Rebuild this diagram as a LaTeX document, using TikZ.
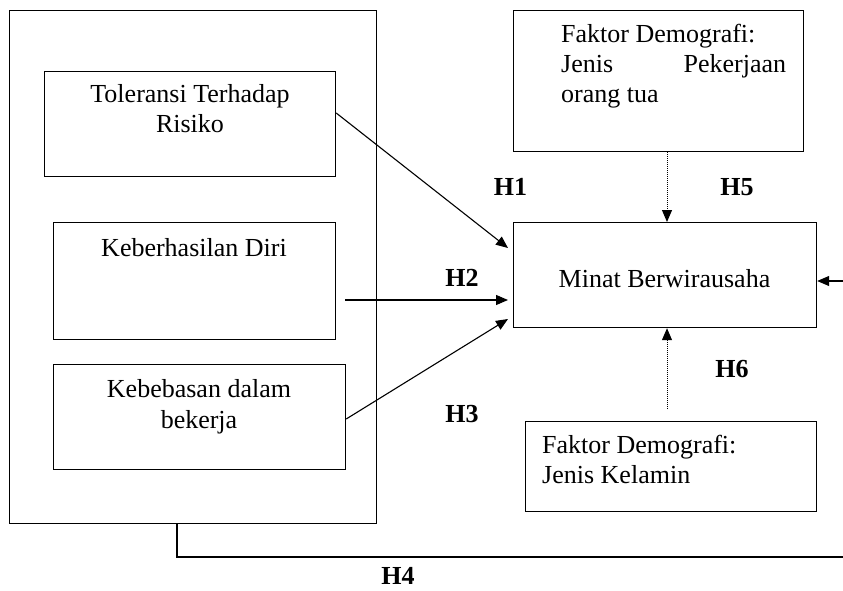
\documentclass[tikz,border=0pt]{standalone}
\usepackage{fontspec}
\setmainfont{Liberation Serif}
\usetikzlibrary{arrows.meta,calc}
\begin{document}
\begin{tikzpicture}[x=1pt,y=-1pt,
  box/.style={draw,line width=1.2pt,rectangle,anchor=north west,inner sep=0pt},
  txt/.style={font=\fontsize{26}{31}\selectfont,inner sep=0pt,anchor=base,align=center},
  hlab/.style={font=\fontsize{26}{30}\selectfont\bfseries,inner sep=0pt,anchor=base},
  arr/.style={line width=1.1pt,-{Triangle[length=12pt,width=10pt]}},
  dotarr/.style={line width=1pt,dash pattern=on 1pt off 1pt,-{Triangle[length=12pt,width=10pt]}},
  conn/.style={line width=1.2pt}]
\useasboundingbox[fill=white] (0,0) rectangle (843,591);
% outer frame
\node[box,minimum width=367pt,minimum height=513pt] (outer) at (9,10) {};
% inner boxes
\node[box,minimum width=291pt,minimum height=105pt] (b1) at (44,71) {};
\node[box,minimum width=282pt,minimum height=117pt] (b2) at (53,222) {};
\node[box,minimum width=292pt,minimum height=105pt] (b3) at (53,364) {};
\node[txt] (t1) at (190,133) {Toleransi Terhadap\\Risiko};
\node[txt] (t2) at (194,256) {Keberhasilan Diri};
\node[txt] (t3) at (199,428) {Kebebasan dalam\\bekerja};
% central box
\node[box,minimum width=303pt,minimum height=105pt] (minat) at (513,222) {};
\node[txt] (tm) at (664.5,287) {Minat Berwirausaha};
% demographic boxes
\node[box,minimum width=290pt,minimum height=141pt] (fd1) at (513,10) {};
\node[inner sep=0pt,anchor=base west,font=\fontsize{26}{30}\selectfont] (tf1) at (561,43)
  {\parbox[t]{225pt}{Faktor Demografi:\\Jenis\hfill Pekerjaan\\orang tua}};
\node[box,minimum width=291pt,minimum height=90pt] (fd2) at (525,421) {};
\node[inner sep=0pt,anchor=base west,font=\fontsize{26}{30}\selectfont] (tf2) at (542,453)
  {\parbox[t]{260pt}{Faktor Demografi:\\Jenis Kelamin}};
% arrows
\draw[arr] ($(b1.north east)+(0,42)$) -- ($(minat.north west)+(-5,26)$);
\draw[arr] ($(b2.north east)+(9,78)$) -- ($(minat.north west)+(-5,78)$);
\draw[arr] ($(b3.north east)+(0,55)$) -- ($(minat.north west)+(-5,97)$);
\draw[dotarr] ($(fd1.south west)+(154,0)$) -- ($(minat.north west)+(154,0)$);
\coordinate (h6s) at ($(fd2.north west)+(142,-12)$);
\draw[dotarr] (h6s) -- ($(minat.south west)+(154,0)$);
\coordinate (h4r) at (850,557);
\draw[conn] ($(outer.south west)+(168,0)$) |- (h4r);
\draw[arr] (h4r) |- ($(minat.north east)+(0,59)$);
% labels
\node[hlab] (h1) at (510.5,195) {H1};
\node[hlab] (h2) at (462,286) {H2};
\node[hlab] (h3) at (462,422) {H3};
\node[hlab] (h4) at (398,584) {H4};
\node[hlab] (h5) at (737,195) {H5};
\node[hlab] (h6) at (732,377) {H6};
\end{tikzpicture}
\end{document}
